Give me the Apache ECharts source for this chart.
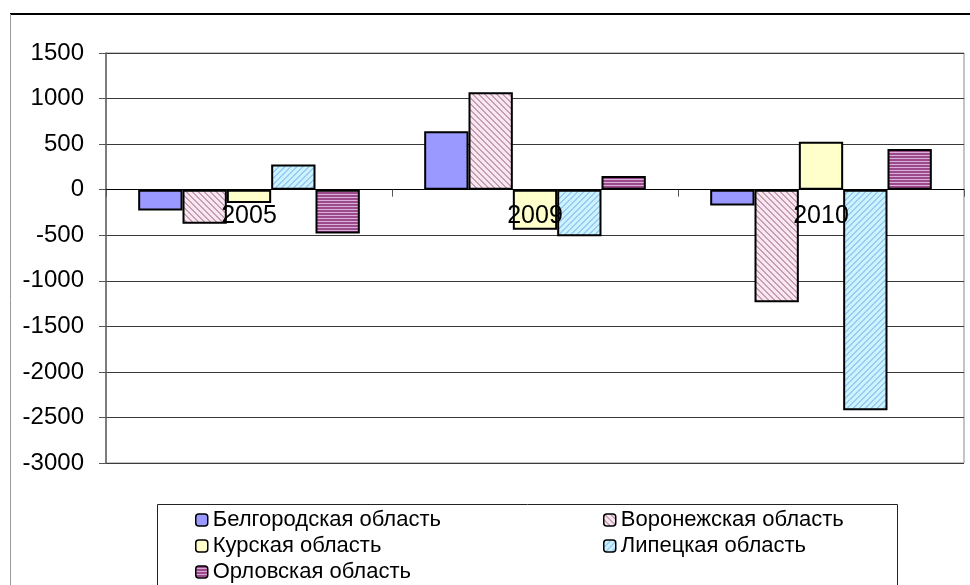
<!DOCTYPE html>
<html>
<head>
<meta charset="utf-8">
<script src="https://cdn.jsdelivr.net/npm/echarts@6/dist/echarts.min.js"></script>
<style>
  html, body { margin: 0; padding: 0; background: #fff; }
  #chart { width: 970px; height: 585px; }
</style>
</head>
<body>
<div id="chart"></div>
<script>
// data
const years = ['2005', '2009', '2010'];
const regionNames = ['Белгородская область', 'Воронежская область', 'Курская область', 'Липецкая область', 'Орловская область'];
const belgorod = [-230, 640, -175];
const voronezh = [-375, 1068, -1235];
const kursk = [-145, -440, 525];
const lipetsk = [275, -510, -2420];
const orel = [-480, 150, 445];
const yMin = -3000, yMax = 1500, yStep = 500;

// small tiled hatch patterns
function hatch(bg, fg, kind) {
  const c = document.createElement('canvas');
  c.width = 6; c.height = 6;
  const g = c.getContext('2d');
  g.fillStyle = bg; g.fillRect(0, 0, 6, 6);
  g.fillStyle = fg;
  for (let y = 0; y < 6; y++) {
    for (let x = 0; x < 6; x++) {
      let k;
      if (kind === 'back') k = (x - y + 12) % 6;
      else if (kind === 'fwd') k = (x + y) % 6;
      else k = y % 3;
      if (k < 2) g.fillRect(x, y, 1, 1);
    }
  }
  return { image: c, repeat: 'repeat' };
}

const fills = [
  '#9999ff',
  hatch('#f7e8f0', '#c99cb6', 'back'),
  '#ffffcc',
  hatch('#ccf2ff', '#99ccf0', 'fwd'),
  hatch('#d8b0d8', '#9c4a8c', 'horiz')
];
const values = [belgorod, voronezh, kursk, lipetsk, orel];

const font = "'Liberation Sans', Arial, sans-serif";
const gridTop = 53, gridBottom = 122;
const gridH = 585 - gridTop - gridBottom;
// category axis sits on the zero line
const zeroOffset = -gridH * (0 - yMin) / (yMax - yMin);

var myChart = echarts.init(document.getElementById('chart'));

const legendBase = {
  orient: 'vertical', top: 509, padding: 0,
  itemWidth: 12, itemHeight: 12, itemGap: 4,
  itemStyle: { borderColor: '#000', borderWidth: 1.5 },
  textStyle: { fontSize: 22, color: '#000', lineHeight: 22, fontFamily: font }
};

const option = {
  backgroundColor: '#fff',
  animation: false,
  textStyle: { fontFamily: font },
  grid: {
    left: 106, right: 6, top: gridTop, bottom: gridBottom,
    show: true, borderColor: '#8a8a8a', borderWidth: 1
  },
  legend: [
    Object.assign({ left: 195, data: [regionNames[0], regionNames[2], regionNames[4]] }, legendBase),
    Object.assign({ left: 603, data: [regionNames[1], regionNames[3]] }, legendBase)
  ],
  xAxis: {
    type: 'category',
    data: years,
    z: 10,
    offset: zeroOffset,
    axisLine: { onZero: false, lineStyle: { color: '#000', width: 1 } },
    axisTick: { show: true, inside: false, length: 7, lineStyle: { color: '#555' } },
    axisLabel: { fontSize: 25, color: '#000', margin: 14, fontFamily: font },
    splitLine: { show: false }
  },
  yAxis: {
    type: 'value',
    min: yMin, max: yMax, interval: yStep,
    axisLine: { show: true, lineStyle: { color: '#666', width: 1.5 } },
    axisTick: { show: true, length: 7, lineStyle: { color: '#555' } },
    axisLabel: { fontSize: 24, color: '#000', margin: 22, fontFamily: font, formatter: v => String(v) },
    splitLine: { show: true, lineStyle: { color: '#3a3a3a', width: 1 } }
  },
  series: regionNames.map((name, i) => ({
    name: name,
    type: 'bar',
    data: values[i],
    barGap: '0%',
    barCategoryGap: '22.5%',
    itemStyle: { color: fills[i], borderColor: '#000', borderWidth: 2 }
  })),
  graphic: [
    { type: 'line', shape: { x1: 10, y1: 14, x2: 970, y2: 14 }, style: { stroke: '#000', lineWidth: 2 } },
    { type: 'line', shape: { x1: 10.5, y1: 14, x2: 10.5, y2: 585 }, style: { stroke: '#999', lineWidth: 1 } },
    { type: 'rect', shape: { x: 157.5, y: 504.5, width: 740, height: 120 }, style: { fill: 'none', stroke: '#222', lineWidth: 1 }, z: -1 }
  ]
};

myChart.setOption(option);
</script>
</body>
</html>
